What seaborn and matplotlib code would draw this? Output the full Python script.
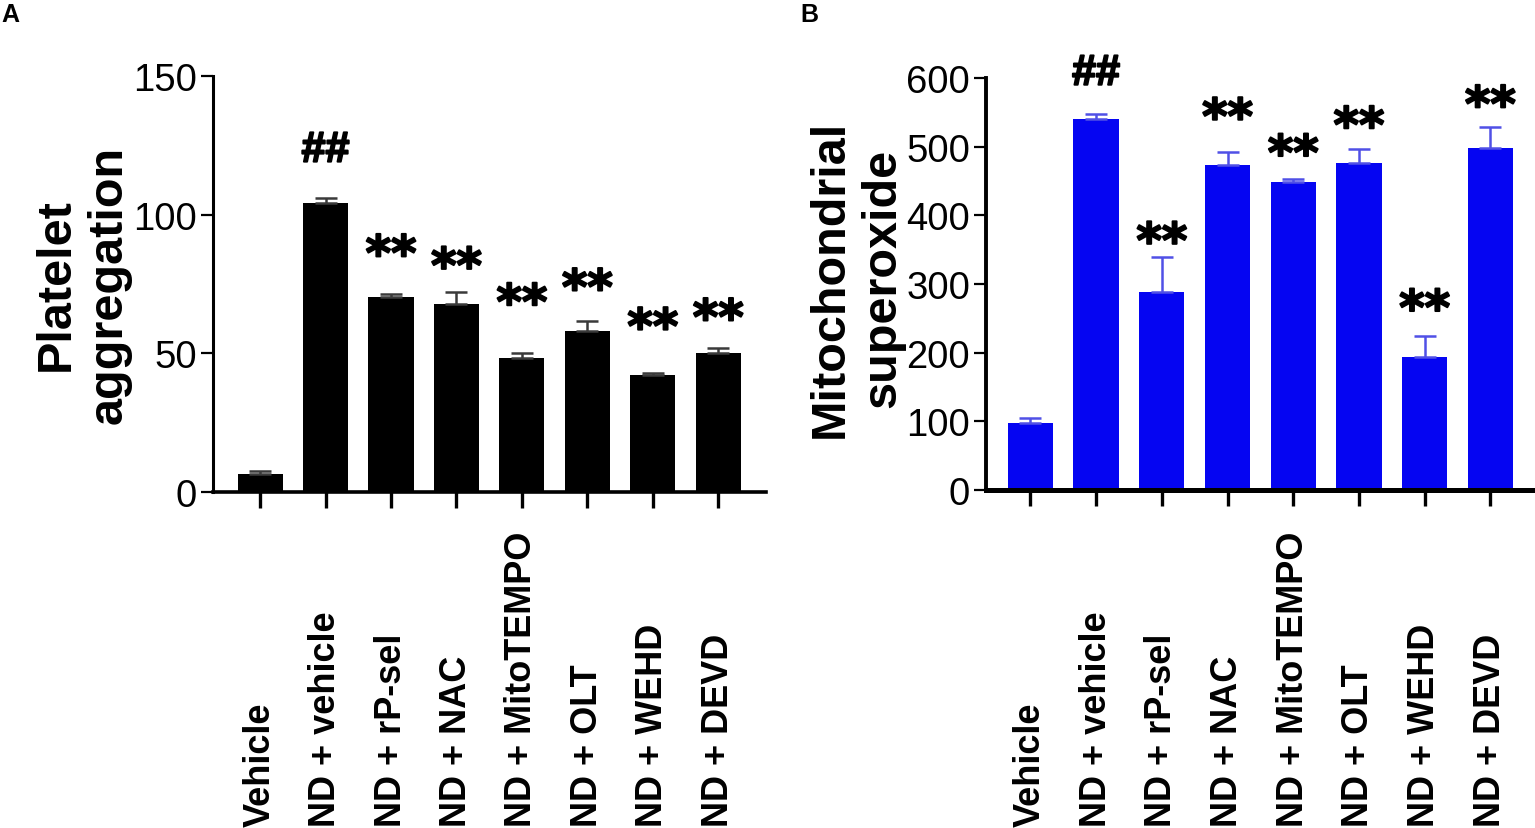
import matplotlib
matplotlib.use("Agg")
import matplotlib.pyplot as plt
import matplotlib.transforms as mtrans
import matplotlib.patheffects as pe
from matplotlib.textpath import TextPath
from matplotlib.font_manager import FontProperties
import seaborn as sns
import pandas as pd
import numpy as np

# ---------------- data ----------------
categories = ["Vehicle", "ND + vehicle", "ND + rP-sel", "ND + NAC",
              "ND + MitoTEMPO", "ND + OLT", "ND + WEHD", "ND + DEVD"]
platelet_mean = [6.6, 104.2, 70.3, 67.7, 48.2, 58.0, 42.3, 50.2]
platelet_sem = [0.9, 1.7, 1.0, 4.5, 1.9, 3.8, 0.5, 1.9]
superoxide_mean = [97, 541, 289, 474, 449, 476, 194, 498]
superoxide_sem = [7, 7, 50, 18, 4, 21, 30, 31]
sig_marks = ["", "##", "**", "**", "**", "**", "**", "**"]
# heights (data units) of the centre of each significance mark, as read
platelet_mark_y = [None, 124.4, 89.0, 84.5, 71.4, 76.7, 62.6, 65.9]
superoxide_mark_y = [None, 612, 375, 556, 503, 543.5, 277, 574]
platelet_yticks = [0, 50, 100, 150]
superoxide_yticks = [0, 100, 200, 300, 400, 500, 600]

# ---------------- style ----------------
sns.set_theme(style="white")
plt.rcParams["font.family"] = ["Liberation Sans", "DejaVu Sans"]

W, H = 1535, 829
fig = plt.figure(figsize=(W / 100, H / 100), dpi=100)

axA = fig.add_axes([213 / W, (H - 493) / H, 553 / W, 416 / H])
axB = fig.add_axes([986 / W, (H - 490.7) / H, 549 / W, 411.4 / H])

star_fp = FontProperties(family="DejaVu Sans", weight="bold", size=35)
hash_fp = FontProperties(family="Liberation Sans", weight="bold", size=31)
thick = [pe.withStroke(linewidth=1.4, foreground="black")]


def glyph_center(s, fp):
    ext = TextPath((0, 0), s, prop=fp).get_extents()
    return (ext.y0 + ext.y1) / 2


def panel(ax, means, sems, color, ecolor, ylim, yticks, ylabel, marks_y,
          xlim, label_xy, lw_left, lw_bottom):
    df = pd.DataFrame({"group": categories, "value": means})
    sns.barplot(data=df, x="group", y="value", order=categories, color=color,
                saturation=1, width=0.69, errorbar=None, ax=ax, linewidth=0)
    x = np.arange(len(categories))
    ax.errorbar(x, means, yerr=[np.zeros(len(sems)), sems], fmt="none",
                ecolor=ecolor, elinewidth=1.8, capsize=8, capthick=1.8,
                zorder=3)
    ax.set_xlim(*xlim)
    ax.set_ylim(*ylim)
    ax.set_yticks(yticks)
    ax.set_yticklabels([str(t) for t in yticks])
    ax.set_xticks(x)
    ax.set_xticklabels([])
    ax.set_xlabel("")
    for side in ("top", "right"):
        ax.spines[side].set_visible(False)
    ax.spines["left"].set_linewidth(lw_left)
    ax.spines["bottom"].set_linewidth(lw_bottom)
    for side in ("left", "bottom"):
        ax.spines[side].set_color("black")
        ax.spines[side].set_capstyle("projecting")
    ax.tick_params(axis="y", left=True, length=8.5, width=1.6, pad=3,
                   labelsize=27.5, color="black", labelcolor="black",
                   direction="out")
    ax.tick_params(axis="x", bottom=True, length=11.5, width=2.4,
                   color="black", labelbottom=False, direction="out")
    ax.set_ylabel(ylabel, fontsize=35, fontweight="bold", color="black",
                  linespacing=1.2)
    ax.yaxis.set_label_coords(*label_xy)
    # rotated category labels, bottom-aligned like the original
    tr = mtrans.blended_transform_factory(ax.transData, fig.transFigure)
    for i, cat in enumerate(categories):
        ax.text(i, 2 / H, cat, transform=tr, rotation=90, ha="center",
                va="bottom", fontsize=26, fontweight="bold", color="black")
    # significance marks
    for i, (m, y) in enumerate(zip(sig_marks, marks_y)):
        if not m:
            continue
        fp = hash_fp if m.startswith("#") else star_fp
        c = glyph_center(m, fp)
        ax.annotate(m, xy=(i, y), xytext=(0, -c), textcoords="offset points",
                    ha="center", va="baseline", fontproperties=fp,
                    color="black", annotation_clip=False, path_effects=thick)


panel(axA, platelet_mean, platelet_sem, "#000000", "#3a3a3a", (0, 150),
      platelet_yticks, "Platelet\naggregation", platelet_mark_y,
      (-0.72, 7.73), (-0.148, 0.5), 2.2, 2.6)
panel(axB, superoxide_mean, superoxide_sem, "#0505F2", "#5050E6", (0, 600),
      superoxide_yticks, "Mitochondrial\nsuperoxide", superoxide_mark_y,
      (-0.676, 7.68), (-0.1475, 0.515), 2.8, 3.6)

fig.text(1 / W, 1 - 3 / H, "A", fontsize=18, fontweight="bold", ha="left",
         va="top", color="black")
fig.text(800 / W, 1 - 3 / H, "B", fontsize=18, fontweight="bold", ha="left",
         va="top", color="black")

fig.savefig("out.png", dpi=100, facecolor="white")
